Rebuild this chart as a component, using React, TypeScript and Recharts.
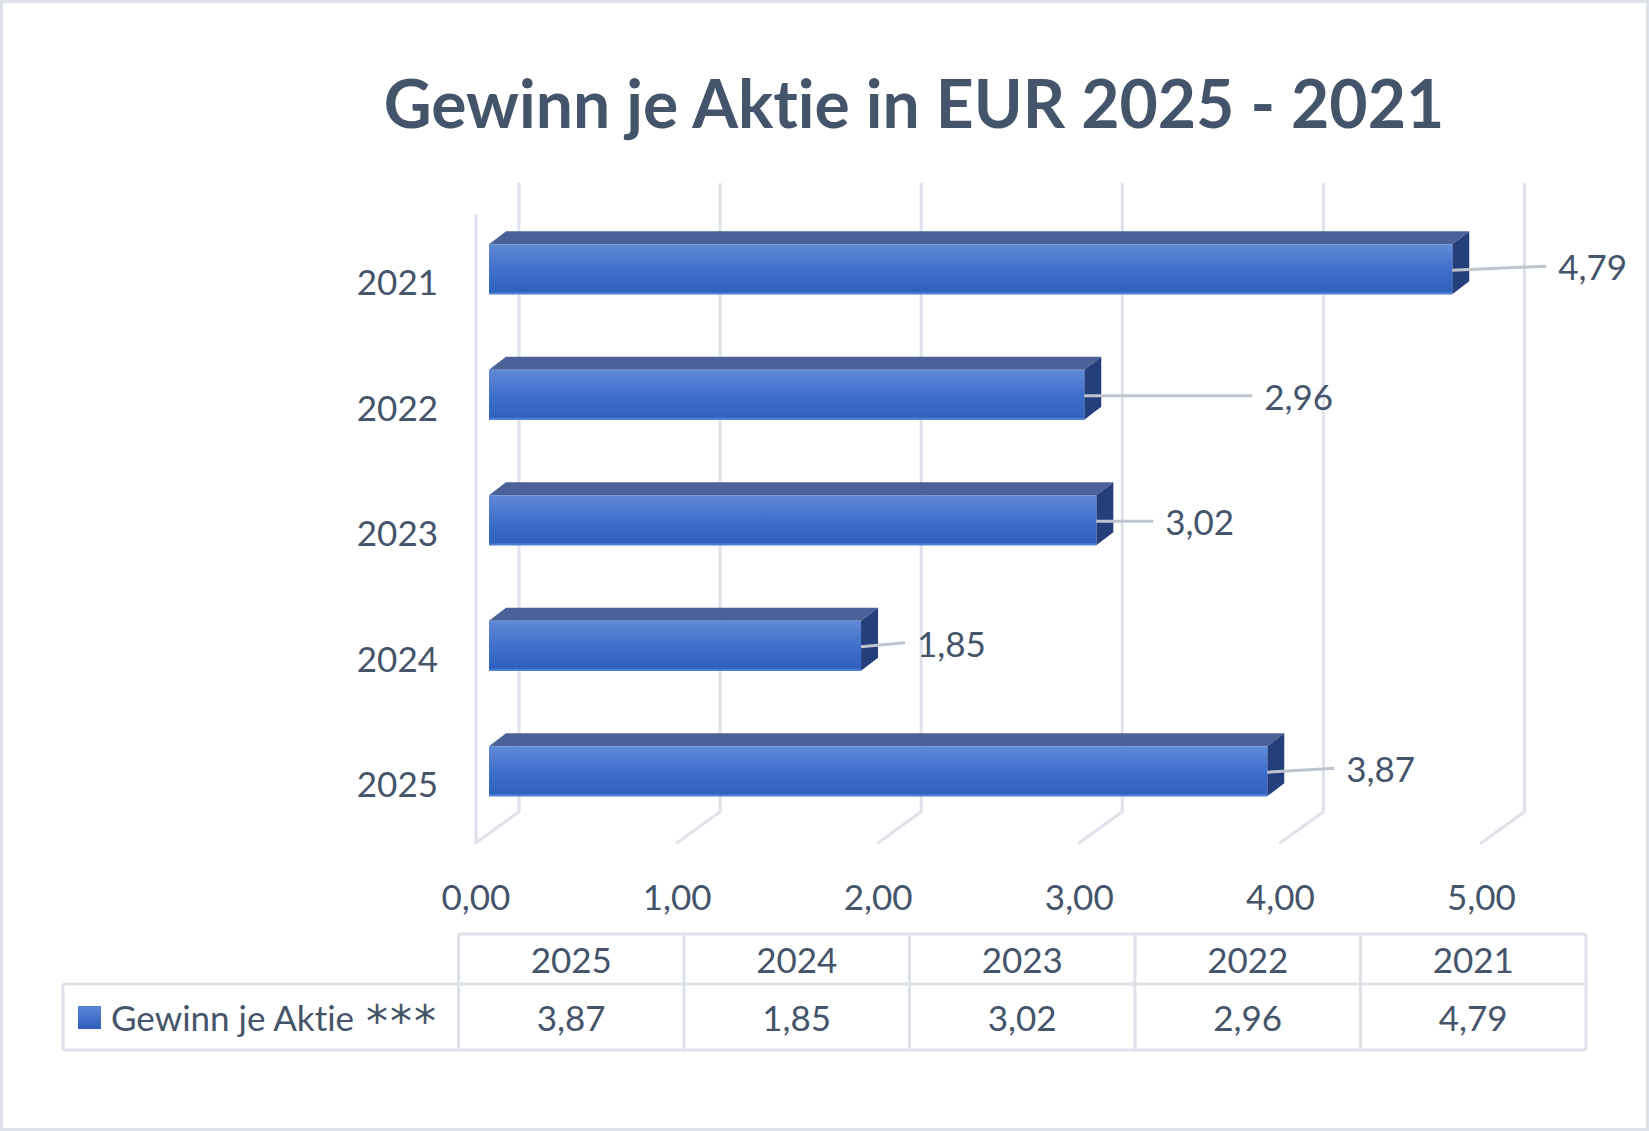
import React from 'react';
import { BarChart, Bar, XAxis, YAxis, CartesianGrid, LabelList } from 'recharts';

const years = ['2021', '2022', '2023', '2024', '2025'];
const eps = [4.79, 2.96, 3.02, 1.85, 3.87];
const xTicks = [0, 1, 2, 3, 4, 5];
const seriesName = 'Gewinn je Aktie';
const seriesNote = '***';
const title = 'Gewinn je Aktie in EUR 2025 - 2021';

// data label placement (pixels from bar end / from bar centre), as in the original
const labelGap = [106, 180, 69, 56, 79];
const labelShift = [-3, 1, 1, -3, -3];

const data = years.map((year, i) => ({ year, eps: eps[i] }));
const tableYears = [...years].reverse();
const tableValues = [...eps].reverse();

const W = 1649;
const H = 1131;
const TEXT = '#44546A';
const GRID = '#dfe2ea';
const FONT = 'Lato, "Open Sans", sans-serif';
const DEPTH_X = 17;
const DEPTH_Y = 13;

const fmt = (v: number) => v.toFixed(2).replace('.', ',');

const Bar3D = (props: any) => {
    const { x, y, width, height } = props;
    if (!width || width <= 0) return null;
    const r = x + width;
    return (
        <g>
            <polygon
                points={`${x},${y} ${x + DEPTH_X},${y - DEPTH_Y} ${r + DEPTH_X},${y - DEPTH_Y} ${r},${y}`}
                fill="#4a6298"
            />
            <polygon
                points={`${r},${y} ${r + DEPTH_X},${y - DEPTH_Y} ${r + DEPTH_X},${y + height - DEPTH_Y} ${r},${y + height}`}
                fill="#243f7c"
            />
            <rect x={x} y={y} width={width} height={height} fill="url(#frontFace)" />
            <line x1={x} y1={y + height - 1} x2={r} y2={y + height - 1} stroke="#4f7dd2" strokeWidth={2} />
        </g>
    );
};

const DataLabel = (props: any) => {
    const vb = props.viewBox || {};
    const x = props.x ?? vb.x;
    const y = props.y ?? vb.y;
    const width = props.width ?? vb.width;
    const height = props.height ?? vb.height;
    const index = props.index ?? 0;
    const end = x + width;
    const cy = y + height / 2;
    const lx = end + labelGap[index];
    const ly = cy + labelShift[index];
    return (
        <g>
            <line x1={end} y1={cy + 1} x2={lx - 12} y2={ly} stroke="#bfc5ce" strokeWidth={3} />
            <text x={lx} y={ly} dominantBaseline="central" fill={TEXT} fontSize={35} fontFamily={FONT}>
                {fmt(Number(props.value))}
            </text>
        </g>
    );
};

const GridLine = (props: any) => {
    const { x1, y1, y2, index } = props;
    const fx = x1 - 13;
    const bx = x1 + 30;
    return (
        <g>
            <polyline
                points={`${fx},${y2 + 9} ${bx},${y2 - 22} ${bx},${y1 - 22}`}
                fill="none"
                stroke={GRID}
                strokeWidth={3}
                strokeLinecap="round"
                strokeLinejoin="round"
            />
            {index === 0 && (
                <line x1={fx} y1={y1 + 9} x2={fx} y2={y2 + 9} stroke={GRID} strokeWidth={3} strokeLinecap="round" />
            )}
        </g>
    );
};

const XTick = (props: any) => {
    const { x, y, payload } = props;
    return (
        <text x={x - 13} y={y + 62} textAnchor="middle" dominantBaseline="central" fill={TEXT} fontSize={35} fontFamily={FONT}>
            {fmt(payload.value)}
        </text>
    );
};

const YTick = (props: any) => {
    const { x, y, payload } = props;
    return (
        <text x={x - 51} y={y + 12} textAnchor="end" dominantBaseline="central" fill={TEXT} fontSize={35} fontFamily={FONT}>
            {payload.value}
        </text>
    );
};

const colX = [458.5, 684, 909.5, 1135, 1360.5, 1586];
const tableLeft = 63;
const headTop = 934;
const rowTop = 984;
const rowBottom = 1050;

const DataTable = () => (
    <svg width={W} height={H} style={{ position: 'absolute', left: 0, top: 0, pointerEvents: 'none' }}>
        <defs>
            <linearGradient id="legendSq" x1="0" y1="0" x2="0" y2="1">
                <stop offset="0%" stopColor="#5d85d4" />
                <stop offset="100%" stopColor="#2e5fbd" />
            </linearGradient>
        </defs>
        <rect x={1.5} y={1.5} width={W - 3} height={H - 3} fill="none" stroke="#dde1e8" strokeWidth={3} />
        <text x={914} y={102} textAnchor="middle" dominantBaseline="central" fill={TEXT} fontSize={66} fontWeight={700} fontFamily={FONT}>
            {title}
        </text>
        <g stroke="#dde1e8" strokeWidth={3} fill="none">
            <line x1={colX[0]} y1={headTop} x2={colX[5]} y2={headTop} />
            <line x1={tableLeft} y1={rowTop} x2={colX[5]} y2={rowTop} />
            <line x1={tableLeft} y1={rowBottom} x2={colX[5]} y2={rowBottom} />
            <line x1={tableLeft} y1={rowTop} x2={tableLeft} y2={rowBottom} />
            {colX.map((cx) => (
                <line key={cx} x1={cx} y1={headTop} x2={cx} y2={rowBottom} />
            ))}
        </g>
        {tableYears.map((yr, i) => (
            <text key={yr} x={(colX[i] + colX[i + 1]) / 2} y={959} textAnchor="middle" dominantBaseline="central" fill={TEXT} fontSize={35} fontFamily={FONT}>
                {yr}
            </text>
        ))}
        {tableValues.map((v, i) => (
            <text key={i} x={(colX[i] + colX[i + 1]) / 2} y={1017} textAnchor="middle" dominantBaseline="central" fill={TEXT} fontSize={35} fontFamily={FONT}>
                {fmt(v)}
            </text>
        ))}
        <rect x={78} y={1006} width={23} height={23} fill="url(#legendSq)" />
        <text x={111} y={1017} dominantBaseline="central" fill={TEXT} fontSize={35} fontFamily={FONT}>
            {seriesName}
            <tspan dx={12} fontSize={44} letterSpacing={2} fontFamily='"DejaVu Sans", sans-serif' dy={4}>
                {seriesNote}
            </tspan>
        </text>
    </svg>
);

const App: React.FC = () => {
    return (
        <div style={{ position: 'absolute', left: 0, top: 0, width: W, height: H, background: '#fff', fontVariantLigatures: 'none' }}>
            <BarChart
                width={W}
                height={H}
                data={data}
                layout="vertical"
                margin={{ top: 206.25, right: 154.5, bottom: 237.25, left: 0 }}
            >
                <defs>
                    <linearGradient id="frontFace" x1="0" y1="0" x2="0" y2="1">
                        <stop offset="0%" stopColor="#6189d6" />
                        <stop offset="55%" stopColor="#3d6ecb" />
                        <stop offset="100%" stopColor="#2d5fbd" />
                    </linearGradient>
                </defs>
                <CartesianGrid horizontal={false} vertical={GridLine} />
                <XAxis
                    type="number"
                    domain={[0, 5]}
                    ticks={xTicks}
                    height={60}
                    axisLine={false}
                    tickLine={false}
                    tickSize={0}
                    tickMargin={0}
                    tick={XTick}
                    interval={0}
                />
                <YAxis
                    type="category"
                    dataKey="year"
                    width={489}
                    axisLine={false}
                    tickLine={false}
                    tickSize={0}
                    tickMargin={0}
                    tick={YTick}
                />
                <Bar dataKey="eps" barSize={50} shape={Bar3D} isAnimationActive={false}>
                    <LabelList dataKey="eps" content={DataLabel} />
                </Bar>
            </BarChart>
            <DataTable />
        </div>
    );
};

export default App;
